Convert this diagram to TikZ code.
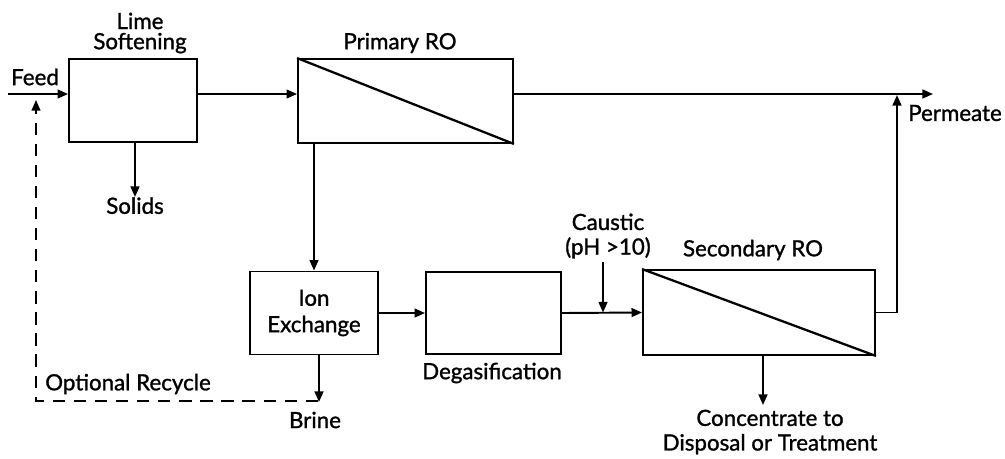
\documentclass[tikz,border=0pt]{standalone}
\usepackage{fontspec}
\setmainfont{Lato}
\newfontfamily\heavylato[FakeBold=1.2]{Lato}
\usetikzlibrary{arrows.meta}
\begin{document}
\begin{tikzpicture}[x=0.02cm,y=-0.02cm,
  every node/.style={font=\heavylato\fontsize{12.7}{14}\selectfont},
  unit/.style={draw,line width=1.1pt,inner sep=0pt},
  lbl/.style={inner sep=0pt,align=center},
  arr/.style={line width=1.1pt,-{Triangle[length=6pt,width=5pt]}},
  ln/.style={line width=1.1pt},
  memb/.style={line width=1.3pt}]
\useasboundingbox (0,0) rectangle (1005,458);
% units
\node[unit,minimum width=2.56cm,minimum height=1.66cm] (lime) at (133,100.5) {};
\node[unit,minimum width=4.3cm,minimum height=1.68cm] (pro) at (405.5,101) {};
\node[unit,minimum width=2.56cm,minimum height=1.66cm,align=center,font=\heavylato\fontsize{12.7}{15}\selectfont] (ion) at (314,313) {Ion\\Exchange};
\node[unit,minimum width=2.7cm,minimum height=1.64cm] (degas) at (493.5,313) {};
\node[unit,minimum width=4.64cm,minimum height=1.7cm] (sro) at (759,312.5) {};
\draw[memb] (pro.north west) -- (pro.south east);
\draw[memb] (sro.north west) -- (sro.south east);
% labels
\node[lbl,font=\heavylato\fontsize{12.7}{11.5}\selectfont] (limelbl) at (140,33) {Lime\\Softening};
\node[lbl] (prolbl) at (400,43) {Primary RO};
\node[lbl] (feed) at (35,77) {Feed};
\node[lbl] (perm) at (955,113) {Permeate};
\node[lbl,anchor=north] (solids) at (135,197) {Solids};
\node[lbl] (optrec) at (128,384) {Optional Recycle};
\node[lbl] (brine) at (315,420) {Brine};
\node[lbl] (degaslbl) at (492,373) {Degasification};
\node[lbl] (caustic) at (608,236) {Caustic\\(pH >10)};
\node[lbl] (srolbl) at (753,250) {Secondary RO};
\node[lbl] (conc) at (770,432) {Concentrate to\\Disposal or Treatment};
% coordinates
\coordinate (feedin) at (8,94);
\coordinate (permend) at (933,94);
\coordinate (permjoin) at (897,95);
\coordinate (cin) at (603,262);
\coordinate (brinetip) at (319,402);
\coordinate (rec1) at (318,401);
\coordinate (rec2) at (36,100);
\coordinate (conctip) at (763,405);
% connectors
\draw[arr] (feedin) -- (feedin -| lime.west);
\draw[arr] (lime.east |- feedin) -- (pro.west |- feedin);
\draw[arr] (pro.east |- feedin) -- (permend);
\draw[arr] (sro.east) -| (permjoin);
\draw[arr] (lime.south -| solids.north) -- (solids.north);
\draw[arr] (pro.south -| ion.north) -- (ion.north);
\draw[arr] (ion.east) -- (degas.west);
\draw[arr] (degas.east) -- (sro.west);
\draw[arr] (cin) -- (cin |- sro.west);
\draw[arr] (brinetip |- ion.south) -- (brinetip);
\draw[arr] (conctip |- sro.south) -- (conctip);
\draw[arr,dashed,dash pattern=on 7pt off 5pt,line width=0.9pt] (rec1) -| (rec2);
\end{tikzpicture}
\end{document}
